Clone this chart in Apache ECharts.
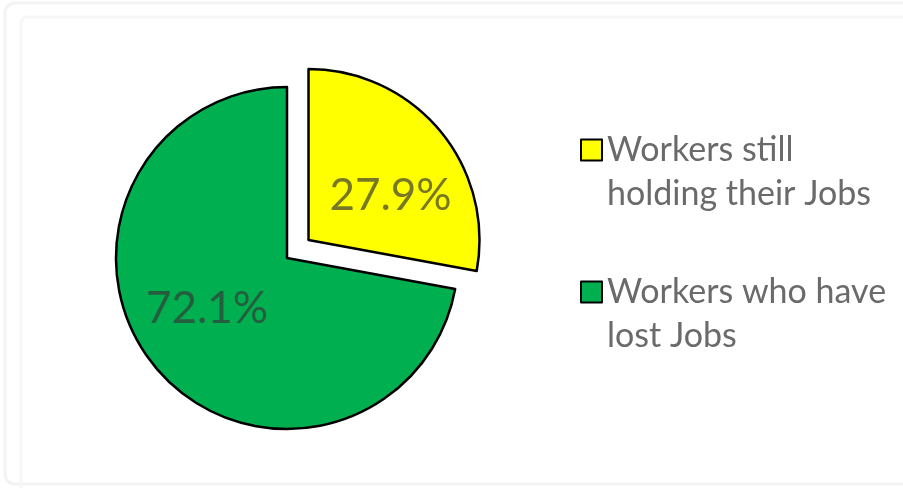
<!DOCTYPE html>
<html>
<head>
<meta charset="utf-8">
<title>Workers and Jobs</title>
<script src="https://cdn.jsdelivr.net/npm/echarts@6/dist/echarts.min.js"></script>
<style>
  html, body { margin: 0; padding: 0; background: #ffffff; }
  #chart { width: 903px; height: 488px; }
</style>
</head>
<body>
<div id="chart"></div>
<script>
// Share of workers (percent)
const categories = ['Workers still holding their Jobs', 'Workers who have lost Jobs'];
const legendLabels = ['Workers still\nholding their Jobs', 'Workers who have\nlost Jobs'];
const shares = [27.9, 72.1];
const sliceColors = ['#ffff00', '#00b050'];

// small nudges so the percentages sit where they read best inside each slice
const labelNudges = [[14, 12], [-12, -6]];

const chart = echarts.init(document.getElementById('chart'), null, { renderer: 'canvas' });

const option = {
  backgroundColor: '#ffffff',
  animation: false,
  graphic: [
    {
      type: 'rect', silent: true,
      shape: { x: 5, y: 3, width: 940, height: 481, r: 10 },
      style: { fill: 'none', stroke: '#f3f3f3', lineWidth: 3 }
    },
    {
      type: 'rect', silent: true,
      shape: { x: 21, y: 17, width: 940, height: 520, r: 6 },
      style: { fill: 'none', stroke: '#f7f7f7', lineWidth: 3 }
    }
  ],
  legend: {
    orient: 'vertical',
    left: 575,
    top: 79,
    itemWidth: 21,
    itemHeight: 21,
    itemGap: 10,
    icon: 'rect',
    selectedMode: false,
    data: categories,
    itemStyle: { borderColor: '#000000', borderWidth: 2 },
    // a blank first line keeps the swatch level with the first line of text
    formatter: function (name) {
      return '\n' + legendLabels[categories.indexOf(name)];
    },
    textStyle: {
      fontFamily: 'Lato',
      fontSize: 34,
      color: '#6a6a6a',
      lineHeight: 44
    }
  },
  series: [
    {
      type: 'pie',
      center: [287, 258],
      radius: [0, 171],
      startAngle: 90,
      clockwise: true,
      selectedMode: 'single',
      selectedOffset: 28,
      avoidLabelOverlap: false,
      itemStyle: { borderColor: '#000000', borderWidth: 2.5 },
      select: { itemStyle: { borderColor: '#000000', borderWidth: 2.5 } },
      emphasis: { disabled: true },
      label: {
        show: true,
        position: 'inner',
        formatter: function (p) { return p.value.toFixed(1) + '%'; },
        fontFamily: 'Lato',
        fontSize: 44,
        color: 'rgba(55,55,55,0.68)'
      },
      labelLine: { show: false },
      labelLayout: function (p) {
        const n = labelNudges[p.dataIndex];
        return { dx: n[0], dy: n[1] };
      },
      data: categories.map(function (name, i) {
        return {
          name: name,
          value: shares[i],
          selected: i === 0,
          itemStyle: { color: sliceColors[i] },
          select: { itemStyle: { color: sliceColors[i] } }
        };
      })
    }
  ]
};

chart.setOption(option);
</script>
</body>
</html>
